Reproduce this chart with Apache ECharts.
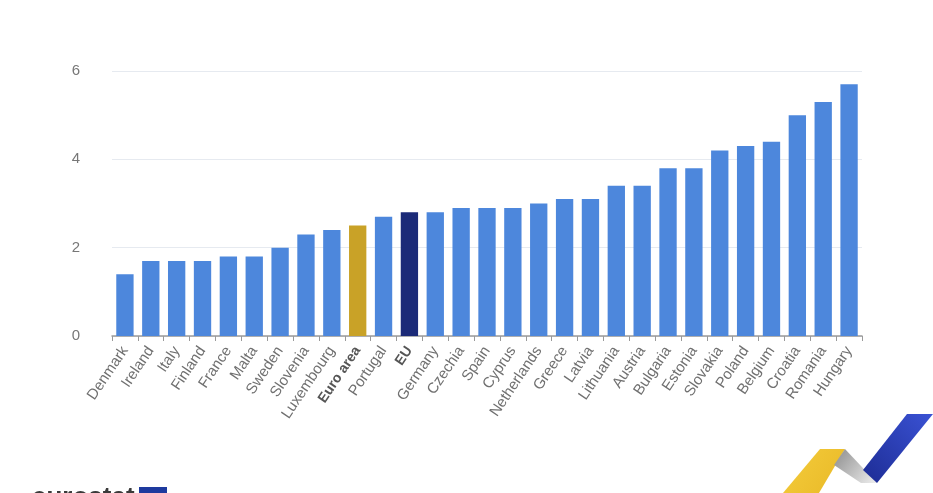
<!DOCTYPE html>
<html>
<head>
<meta charset="utf-8">
<script src="https://cdn.jsdelivr.net/npm/echarts@6/dist/echarts.min.js"></script>
<style>
html,body{margin:0;padding:0;background:#fff;}
#chart{width:933px;height:493px;}
</style>
</head>
<body>
<div id="chart"></div>
<script>
const categories = ["Denmark","Ireland","Italy","Finland","France","Malta","Sweden","Slovenia","Luxembourg","Euro area","Portugal","EU","Germany","Czechia","Spain","Cyprus","Netherlands","Greece","Latvia","Lithuania","Austria","Bulgaria","Estonia","Slovakia","Poland","Belgium","Croatia","Romania","Hungary"];
const values = [1.4,1.7,1.7,1.7,1.8,1.8,2.0,2.3,2.4,2.5,2.7,2.8,2.8,2.9,2.9,2.9,3.0,3.1,3.1,3.4,3.4,3.8,3.8,4.2,4.3,4.4,5.0,5.3,5.7];
const yTicks = [0,2,4,6];
const boldCategories = ["Euro area","EU"];

const colorDefault = '#4d87dc';
const colorSpecial = {"Euro area":'#c9a227',"EU":'#1b2a78'};

const chart = echarts.init(document.getElementById('chart'), null, {renderer:'canvas'});
const font = '"Liberation Sans", Arial, Helvetica, sans-serif';
chart.setOption({
  animation:false,
  backgroundColor:'#ffffff',
  grid:{left:112,right:71,top:71,bottom:157,containLabel:false},
  xAxis:{
    type:'category',
    data:categories,
    axisLine:{lineStyle:{color:'#9a9a9a',width:1.5}},
    axisTick:{show:true,length:5,lineStyle:{color:'#9a9a9a'}},
    axisLabel:{
      interval:0,rotate:56,margin:12,color:'#707070',fontSize:15,fontFamily:font,
      formatter:function(v){return boldCategories.indexOf(v)>=0?'{b|'+v+'}':v;},
      rich:{b:{fontWeight:'bold',color:'#555',fontSize:14,fontFamily:font}}
    }
  },
  yAxis:{
    type:'value',min:yTicks[0],max:yTicks[yTicks.length-1],interval:yTicks[1]-yTicks[0],
    axisLine:{show:false},axisTick:{show:false},
    axisLabel:{color:'#777',fontSize:15,margin:32,fontFamily:font},
    splitLine:{lineStyle:{color:'#e6eaf0',width:1}}
  },
  series:[{
    type:'bar',
    barCategoryGap:'33%',
    data:values.map((v,i)=>({value:v,itemStyle:{color:colorSpecial[categories[i]]||colorDefault}}))
  }],
  graphic:[
    {type:'text',left:32,top:485,style:{text:'eurostat',fontSize:26,fontWeight:'bold',fill:'#3a3a3a',fontFamily:font}},
    {type:'rect',shape:{x:139,y:487,width:28,height:20},style:{fill:'#1e3a9e'}},
    {type:'polygon',shape:{points:[[820,449],[845,449],[819,493],[783,493]]},
      style:{fill:new echarts.graphic.LinearGradient(0,0,1,1,[{offset:0,color:'#f4cc3c'},{offset:1,color:'#e9b927'}])}},
    {type:'polygon',shape:{points:[[845,449],[877,483],[861,483],[834,465]]},
      style:{fill:new echarts.graphic.LinearGradient(0,0,1,1,[{offset:0,color:'#8c8c8c'},{offset:1,color:'#efefef'}])}},
    {type:'polygon',shape:{points:[[907,414],[933,414],[877,483],[863,470]]},
      style:{fill:new echarts.graphic.LinearGradient(1,0,0,1,[{offset:0,color:'#3a52d4'},{offset:1,color:'#1d2c94'}])}}
  ]
});
</script>
</body>
</html>
